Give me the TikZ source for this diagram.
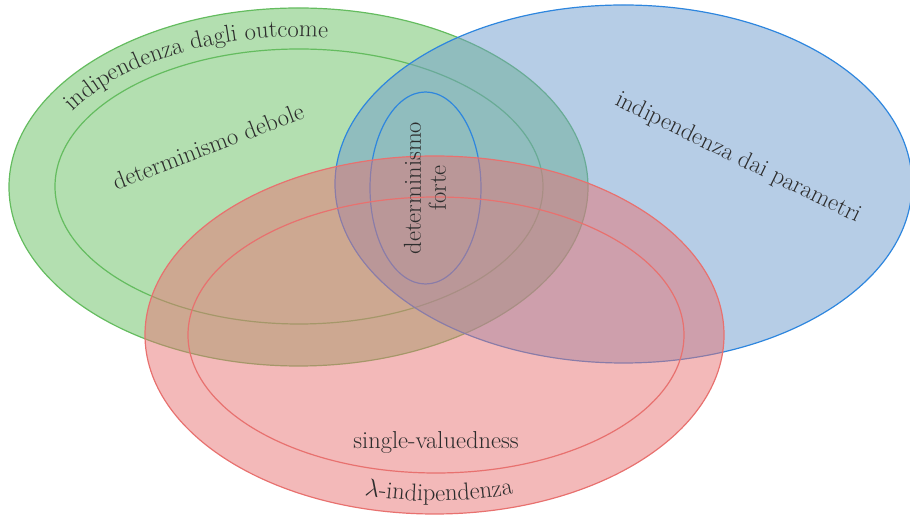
\documentclass[tikz,border=0pt]{standalone}
\usetikzlibrary{decorations.text}
\definecolor{greenline}{RGB}{100,188,95}
\definecolor{greenfill}{RGB}{103,191,97}
\definecolor{blueline}{RGB}{46,134,222}
\definecolor{bluefill}{RGB}{110,155,205}
\definecolor{redline}{RGB}{232,113,111}
\definecolor{redfill}{RGB}{231,115,115}
\definecolor{labelgray}{RGB}{45,45,45}
\newcommand{\setfont}{\fontsize{24.5}{25}\selectfont}

\begin{document}
\begin{tikzpicture}[x=1pt,y=1pt,
    setline/.style={line width=1.2pt},
    greenset/.style={setline,draw=greenline,fill=greenfill,fill opacity=0.5},
    blueset/.style={setline,draw=blueline,fill=bluefill,fill opacity=0.5},
    redset/.style={setline,draw=redline,fill=redfill,fill opacity=0.5},
    setname/.style={text=labelgray,font=\setfont},
    curvename/.style={decorate,decoration={text along path,text align=center,
        text color=labelgray,text={|\setfont|#1}}}]
    \useasboundingbox (0,0) rectangle (910,516);
    \clip (0,0) rectangle (910,516);
    % Outcome independence
    \draw[greenset] (298.5,329) ellipse [x radius=289.5,y radius=179];
    \draw[setline,draw=greenline] (299,329.5) ellipse [x radius=244,y radius=137.5];
    % Parameter independence
    \draw[blueset] (623.5,332) ellipse [x radius=288.5,y radius=179];
    \draw[setline,draw=blueline] (425.5,328) ellipse [x radius=55.5,y radius=96];
    % Lambda independence
    \draw[redset] (434.5,181) ellipse [x radius=289.5,y radius=179];
    \draw[setline,draw=redline] (436,181) ellipse [x radius=248,y radius=138];
    % Curved labels
    \path[curvename={indipendenza dagli outcome}]
        ([shift={(169:262 and 150)}]298.5,329) arc [start angle=169,end angle=71,x radius=262,y radius=150];
    \path[curvename={{$\lambda$}-indipendenza}]
        ([shift={(247:272 and 166)}]434.5,181) arc [start angle=247,end angle=295,x radius=272,y radius=166];
    % Labels
    \node[setname,rotate=21] (debole) at (208,370) {determinismo debole};
    \node[setname,rotate=-26] (parametri) at (738,358) {indipendenza dai parametri};
    \node[setname,rotate=90,align=center] (forte) at (425,328) {determinismo\\forte};
    \node[setname] (single) at (436,73) {single-valuedness};
\end{tikzpicture}
\end{document}
